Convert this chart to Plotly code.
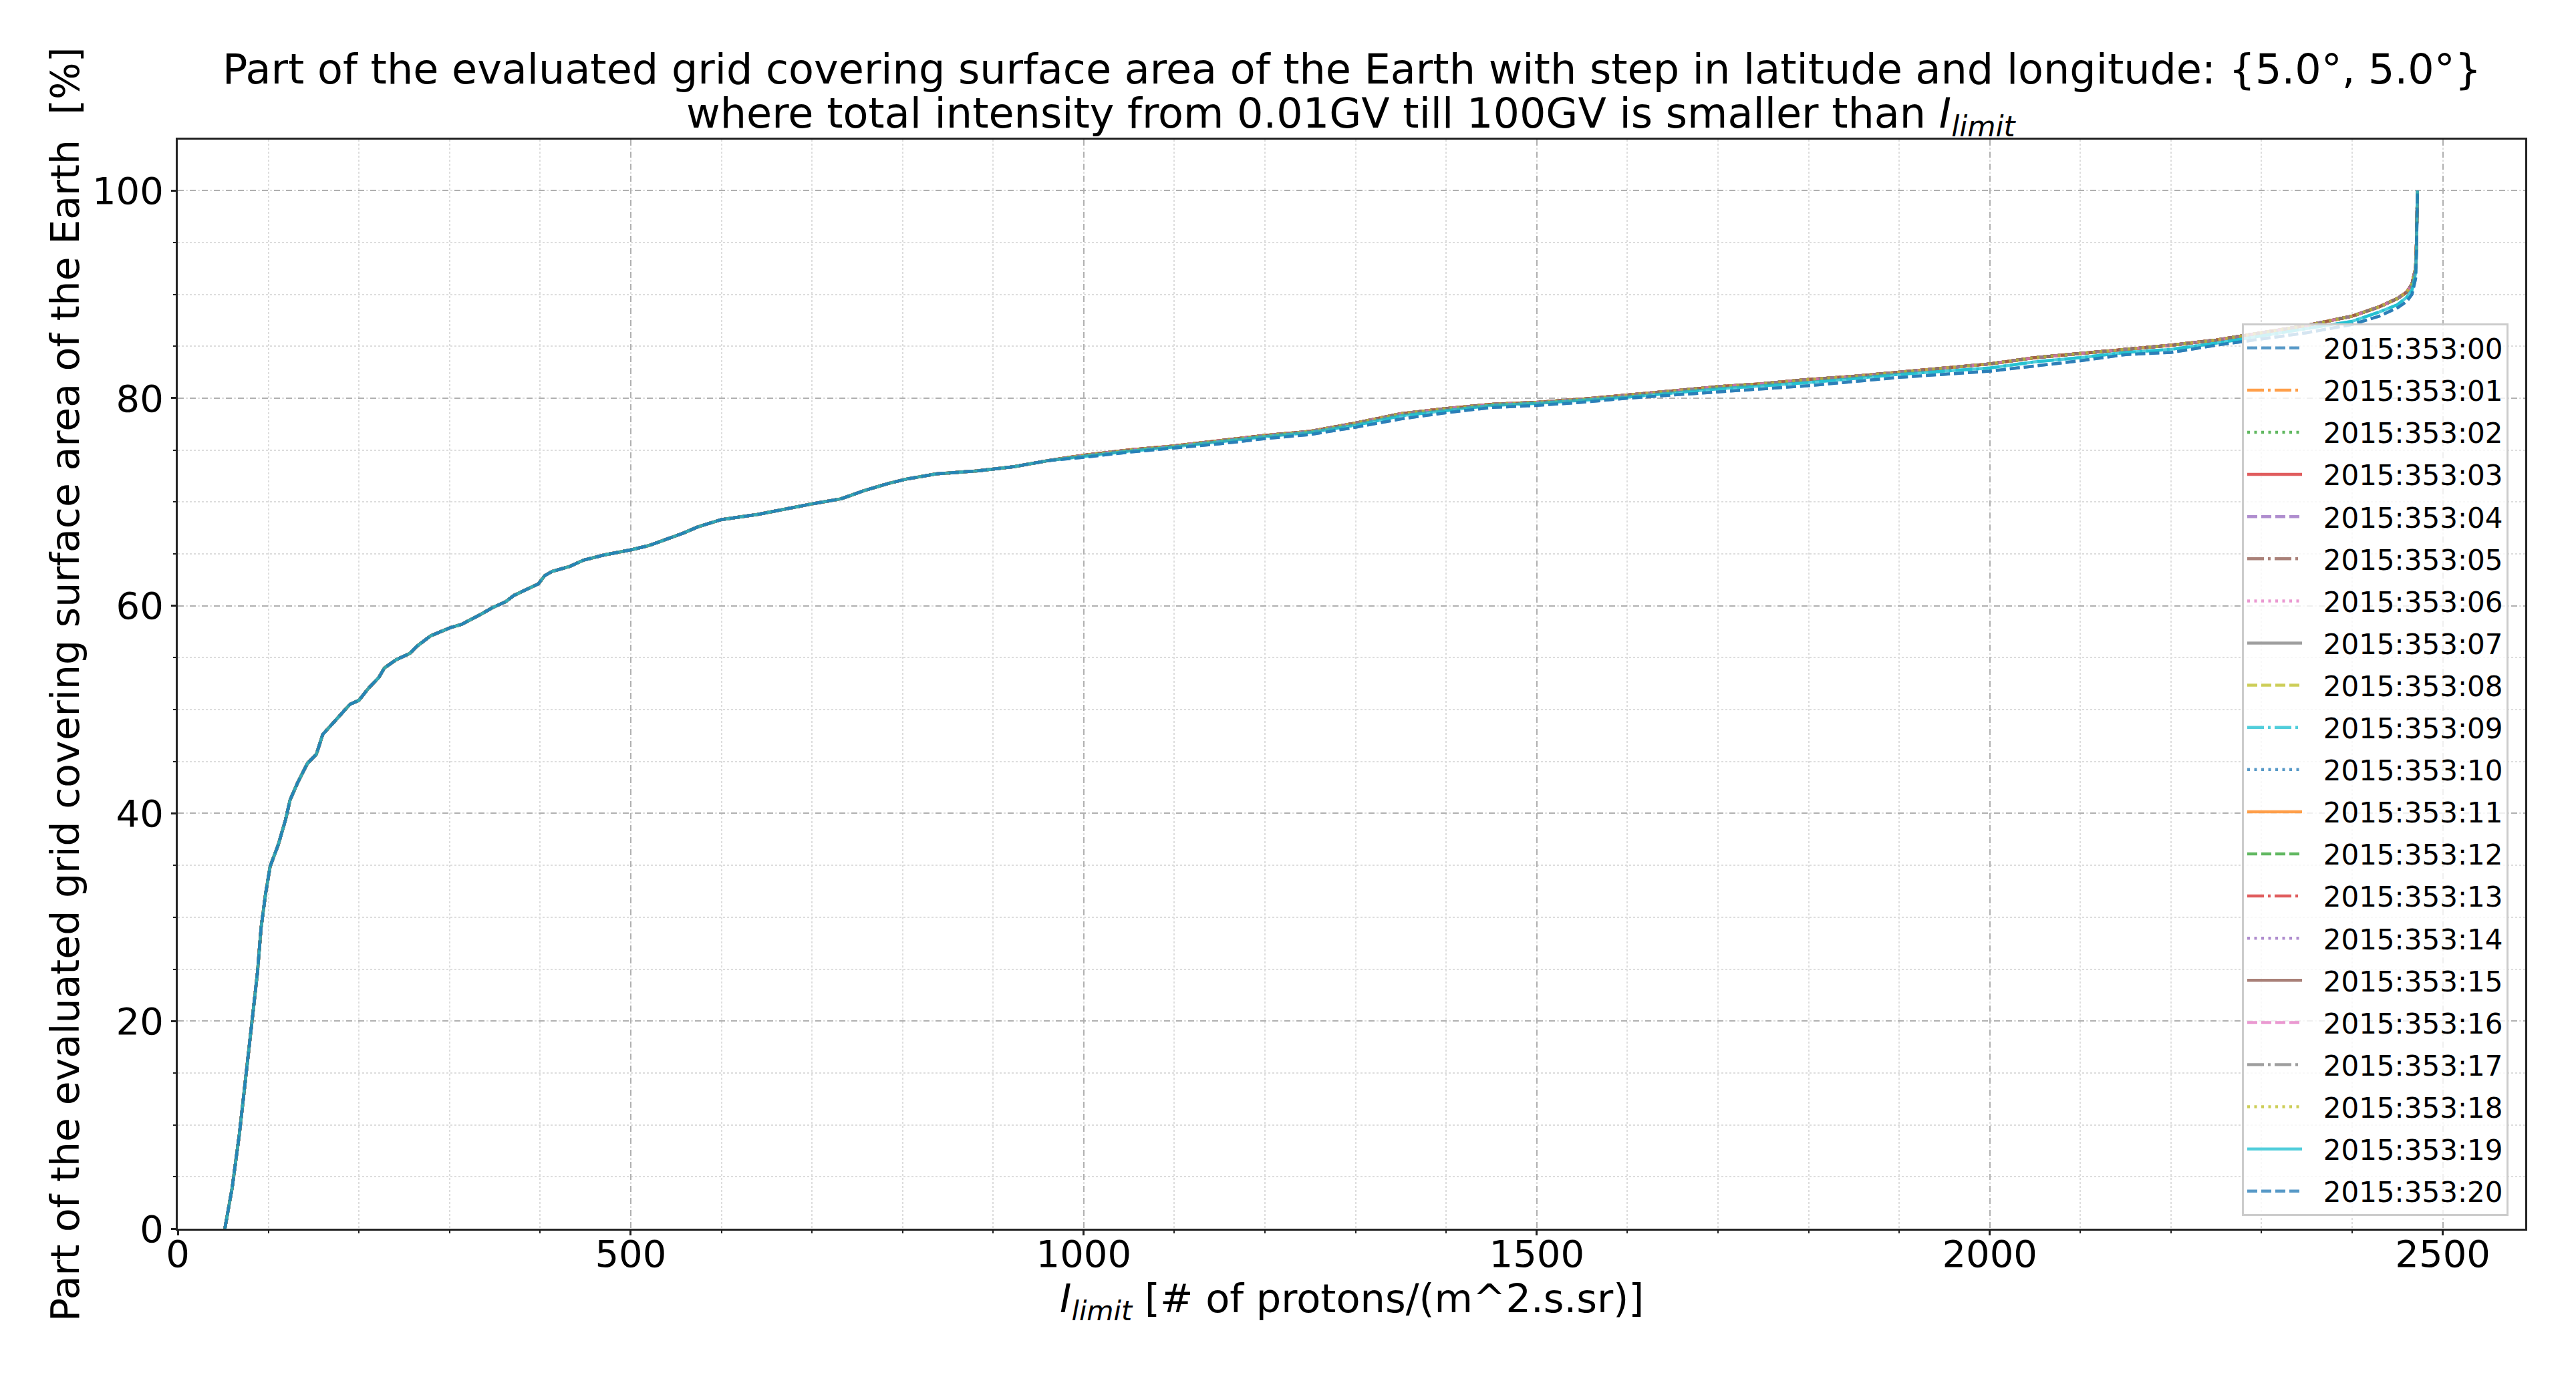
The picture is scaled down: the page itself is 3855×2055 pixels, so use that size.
import plotly.graph_objects as go

# ---- data ----
series_names = ["2015:353:%02d" % h for h in range(21)]

# shared part of the curve (all hours coincide here)
x_shared = [52, 60, 68, 75, 82, 88, 92, 97, 102, 111, 119, 124, 132, 143, 153, 160,
            177, 190, 200, 211, 222, 228, 241, 256, 264, 279, 301, 313, 335, 347,
            362, 371, 388, 398, 405, 413, 433, 448, 471, 501, 520, 539, 558, 574,
            600, 640, 673, 699, 732, 758, 785, 804, 837, 883, 923, 962]
y_shared = [0, 3.9, 9.1, 14.8, 20.0, 24.7, 29.0, 32.3, 34.9, 37.0, 39.4, 41.3, 42.9,
            44.8, 45.7, 47.6, 49.3, 50.5, 50.9, 52.1, 53.1, 54.0, 54.8, 55.4, 56.1,
            57.1, 57.9, 58.2, 59.2, 59.8, 60.4, 61.0, 61.7, 62.1, 62.9, 63.3, 63.8,
            64.4, 64.9, 65.4, 65.8, 66.4, 67.0, 67.6, 68.3, 68.8, 69.4, 69.8, 70.3,
            71.1, 71.8, 72.2, 72.7, 73.0, 73.4, 74.0]

# upper part, where the hours separate slightly
x_high = [1000, 1050, 1100, 1150, 1200, 1250, 1300, 1350, 1400, 1450, 1500, 1550,
          1600, 1650, 1700, 1750, 1800, 1850, 1900, 1950, 2000, 2050, 2100, 2150,
          2200, 2250, 2300, 2350, 2400, 2430, 2450, 2460, 2466, 2470, 2471, 2472]
y_high_upper = [74.5, 75.0, 75.4, 75.9, 76.4, 76.8, 77.6, 78.5, 79.0, 79.4, 79.6, 79.9,
                80.3, 80.7, 81.1, 81.4, 81.8, 82.1, 82.5, 82.9, 83.3, 83.9, 84.3, 84.7,
                85.1, 85.6, 86.3, 87.0, 87.9, 88.8, 89.6, 90.2, 91.0, 92.5, 95.0, 100]
y_high_mid = [74.4, 74.9, 75.3, 75.8, 76.3, 76.7, 77.4, 78.3, 78.8, 79.3, 79.5, 79.8,
              80.1, 80.5, 80.9, 81.2, 81.5, 81.9, 82.3, 82.6, 82.9, 83.5, 83.9, 84.4,
              84.7, 85.3, 86.0, 86.7, 87.4, 88.3, 89.0, 89.7, 90.4, 92.0, 94.5, 100]
y_high_lower = [74.3, 74.8, 75.2, 75.6, 76.1, 76.5, 77.2, 78.0, 78.6, 79.1, 79.3, 79.6,
                80.0, 80.3, 80.6, 80.9, 81.2, 81.6, 82.0, 82.3, 82.6, 83.1, 83.6, 84.2,
                84.4, 85.1, 85.7, 86.3, 87.1, 87.9, 88.7, 89.3, 90.0, 91.5, 94.0, 100]

# which upper-part variant each hour follows
series_variant = ["lower", "upper", "upper", "upper", "upper", "upper", "upper",
                  "upper", "upper", "mid", "upper", "upper", "upper", "upper",
                  "upper", "upper", "upper", "upper", "upper", "mid", "lower"]

x_ticks = [0, 500, 1000, 1500, 2000, 2500]
y_ticks = [0, 20, 40, 60, 80, 100]

title_line1 = ("Part of the evaluated grid covering surface area of the Earth with step "
               "in latitude and longitude: {5.0°, 5.0°}")
title_line2 = ("where total intensity from 0.01GV till 100GV is smaller than "
               "<i>I</i><sub><i>limit</i></sub>")
x_label = "<i>I</i><sub><i>limit</i></sub> [# of protons/(m^2.s.sr)]"
y_label = "Part of the evaluated grid covering surface area of the Earth  [%]"

# ---- styles ----
colors = ["#1f77b4", "#ff7f0e", "#2ca02c", "#d62728", "#9467bd",
          "#8c564b", "#e377c2", "#7f7f7f", "#bcbd22", "#17becf"]
dashes = ["15px,6px", "25px,6px,4px,6px", "4px,6.5px", "solid"]
variants = {"upper": y_high_upper, "mid": y_high_mid, "lower": y_high_lower}

FONT = "DejaVu Sans"
NB = "\u00a0\u00a0"  # gap between legend symbol and label

fig = go.Figure()
for i, name in enumerate(series_names):
    fig.add_trace(go.Scatter(
        x=x_shared + x_high,
        y=y_shared + variants[series_variant[i]],
        mode="lines",
        name=NB + name,
        legendgroup=name,
        opacity=0.75,
        line=dict(color=colors[i % 10], width=4.5, dash=dashes[i % 4]),
    ))

# page body has an 8px margin: the figure is sized to end at the window edge
W, H = 3847, 2047
L, R, T, B = 258, 76, 201, 216
PW, PH = W - L - R, H - T - B

axis_common = dict(
    showline=True, linecolor="#222222", linewidth=3, mirror=True,
    ticks="outside", ticklen=7, tickwidth=3, tickcolor="#222222",
    showgrid=True, gridcolor="#b0b0b0", gridwidth=2, griddash="dash",
    zeroline=False, automargin=False,
    tickfont=dict(family=FONT, size=56, color="black"),
)
minor_common = dict(ticks="outside", ticklen=4, tickwidth=2, tickcolor="#222222",
                    showgrid=True, gridcolor="#dddddd", gridwidth=2, griddash="dot")

fig.update_layout(
    width=W, height=H,
    margin=dict(l=L, r=R, t=T, b=B, autoexpand=False),
    paper_bgcolor="white", plot_bgcolor="white",
    font=dict(family=FONT, color="black"),
    xaxis=dict(range=[0, 2591], tickmode="array", tickvals=x_ticks,
               ticklabelstandoff=-20,
               minor=dict(dtick=100, tick0=0, **minor_common), **axis_common),
    yaxis=dict(range=[0, 104.9], tickmode="array", tickvals=y_ticks,
               minor=dict(dtick=5, tick0=0, **minor_common), **axis_common),
    legend=dict(
        x=(3746 - L) / PW, xanchor="right",
        y=19 / PH, yanchor="bottom",
        bgcolor="rgba(255,255,255,0.8)",
        bordercolor="#cccccc", borderwidth=3,
        font=dict(family=FONT, size=42, color="black"),
        itemwidth=82,
        tracegroupgap=5.5,
        traceorder="grouped",
    ),
    showlegend=True,
    annotations=[
        dict(text=title_line1, xref="paper", x=0.5, xanchor="center",
             yref="paper", y=1, yanchor="middle", yshift=T - 95,
             showarrow=False, font=dict(family=FONT, size=62, color="black")),
        dict(text=title_line2, xref="paper", x=0.5, xanchor="center",
             yref="paper", y=1, yanchor="middle", yshift=T - 165,
             showarrow=False, font=dict(family=FONT, size=62, color="black")),
        dict(text=x_label, xref="paper", x=0.5, xanchor="center",
             yref="paper", y=0, yanchor="middle", yshift=-108,
             showarrow=False, font=dict(family=FONT, size=59, color="black")),
        dict(text=y_label, xref="paper", x=0, xanchor="center", xshift=-168,
             yref="paper", y=0.5, yanchor="middle", textangle=-90,
             showarrow=False, font=dict(family=FONT, size=58.5, color="black")),
    ],
)

fig.write_html("out.html")
